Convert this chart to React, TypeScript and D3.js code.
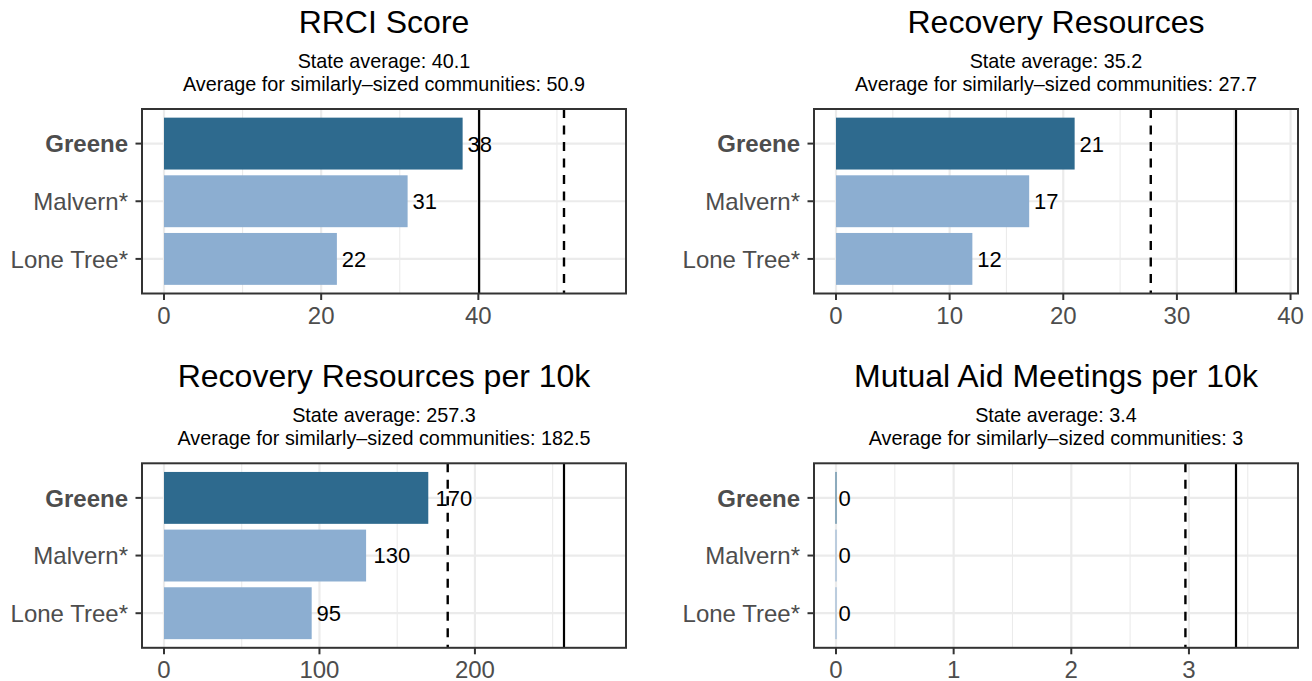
import * as d3 from 'd3'

const communities = ['Greene', 'Malvern*', 'Lone Tree*']
const panelTitles = ['RRCI Score', 'Recovery Resources', 'Recovery Resources per 10k', 'Mutual Aid Meetings per 10k']
const rrciScore = [38, 31, 22]
const recoveryResources = [21, 17, 12]
const resourcesPer10k = [170, 130, 95]
const mutualAidPer10k = [0, 0, 0]
const stateAverages = [40.1, 35.2, 257.3, 3.4]
const similarAverages = [50.9, 27.7, 182.5, 2.97]
const majorTicks = [[0, 20, 40], [0, 10, 20, 30, 40], [0, 100, 200], [0, 1, 2, 3]]
const minorTicks = [[10, 30, 50], [5, 15, 25, 35], [50, 150, 250], [0.5, 1.5, 2.5, 3.5]]

const seriesValues = [rrciScore, recoveryResources, resourcesPer10k, mutualAidPer10k]

const FONT = '"Liberation Sans", Arial, Helvetica, sans-serif'
const DARK = '#2E6A8E'
const LIGHT = '#8CAED1'

const W = 1312
const H = 681
const panelW = 484
const panelH = 184.5
const panelX = [142, 814]
const panelY = [109, 463.3]

const fmt = (v: number) => String(+v.toFixed(1))

interface PanelProps {
  title: string
  values: number[]
  stateAvg: number
  similarAvg: number
  ticks: number[]
  minor: number[]
  left: number
  top: number
}

function Panel({ title, values, stateAvg, similarAvg, ticks, minor, left, top }: PanelProps) {
  const m = 1.1 * Math.max(stateAvg, similarAvg, ...values)
  const x = d3.scaleLinear().domain([-0.05 * m, 1.05 * m]).range([0, panelW])
  const y = d3.scaleBand<string>()
    .domain(communities)
    .range([0, panelH])
    .paddingInner(0.1)
    .paddingOuter(0.15)
  const cx = panelW / 2

  return (
    <g transform={`translate(${left},${top})`}>
      <text x={cx} y={-76} textAnchor="middle" fontSize={32} fill="#000">{title}</text>
      <text x={cx} y={-41} textAnchor="middle" fontSize={19.8} fill="#000">
        {`State average: ${fmt(stateAvg)}`}
      </text>
      <text x={cx} y={-18} textAnchor="middle" fontSize={19.8} fill="#000">
        {`Average for similarly\u2013sized communities: ${fmt(similarAvg)}`}
      </text>

      <rect x={0} y={0} width={panelW} height={panelH} fill="#fff" />
      {minor.map(t => (
        <line key={`mn${t}`} x1={x(t)} x2={x(t)} y1={0} y2={panelH} stroke="#EBEBEB" strokeWidth={1.1} />
      ))}
      {ticks.map(t => (
        <line key={`mj${t}`} x1={x(t)} x2={x(t)} y1={0} y2={panelH} stroke="#EBEBEB" strokeWidth={2.2} />
      ))}
      {communities.map(c => {
        const yc = (y(c) ?? 0) + y.bandwidth() / 2
        return <line key={`g${c}`} x1={0} x2={panelW} y1={yc} y2={yc} stroke="#EBEBEB" strokeWidth={2.2} />
      })}

      {communities.map((c, i) => {
        const v = values[i]
        const color = i === 0 ? DARK : LIGHT
        const x0 = x(0)
        const w = x(v) - x0
        return w > 0
          ? <rect key={`b${c}`} x={x0} y={y(c)} width={w} height={y.bandwidth()} fill={color} />
          : <line key={`b${c}`} x1={x0} x2={x0} y1={y(c)} y2={(y(c) ?? 0) + y.bandwidth()} stroke={color} strokeWidth={1} />
      })}

      {communities.map((c, i) => {
        const label = String(values[i])
        const tw = label.length * 0.556 * 22
        return (
          <text key={`l${c}`} x={x(values[i]) + 0.2 * tw} y={(y(c) ?? 0) + y.bandwidth() / 2}
            dy="0.36em" fontSize={22} fill="#000">{label}</text>
        )
      })}

      <line x1={x(similarAvg)} x2={x(similarAvg)} y1={0} y2={panelH} stroke="#000" strokeWidth={2.4} strokeDasharray="9,7.5" />
      <line x1={x(stateAvg)} x2={x(stateAvg)} y1={0} y2={panelH} stroke="#000" strokeWidth={2.2} />

      <rect x={0} y={0} width={panelW} height={panelH} fill="none" stroke="#333333" strokeWidth={2} />

      {communities.map((c, i) => {
        const yc = (y(c) ?? 0) + y.bandwidth() / 2
        return (
          <g key={`yt${c}`}>
            <line x1={-6.5} x2={0} y1={yc} y2={yc} stroke="#333333" strokeWidth={2} />
            <text x={-14} y={yc} dy="0.36em" textAnchor="end" fontSize={24}
              fontWeight={i === 0 ? 'bold' : 'normal'} fill="#4D4D4D">{c}</text>
          </g>
        )
      })}
      {ticks.map(t => (
        <g key={`xt${t}`}>
          <line x1={x(t)} x2={x(t)} y1={panelH} y2={panelH + 6.5} stroke="#333333" strokeWidth={2} />
          <text x={x(t)} y={panelH + 30} textAnchor="middle" fontSize={24} fill="#4D4D4D">{t}</text>
        </g>
      ))}
    </g>
  )
}

export default function App() {
  return (
    <svg width={W} height={H} style={{ position: 'fixed', left: 0, top: 0, background: '#fff' }}
      fontFamily={FONT}>
      <rect width={W} height={H} fill="#fff" />
      {panelTitles.map((t, i) => (
        <Panel
          key={t}
          title={t}
          values={seriesValues[i]}
          stateAvg={stateAverages[i]}
          similarAvg={similarAverages[i]}
          ticks={majorTicks[i]}
          minor={minorTicks[i]}
          left={panelX[i % 2]}
          top={panelY[Math.floor(i / 2)]}
        />
      ))}
    </svg>
  )
}
